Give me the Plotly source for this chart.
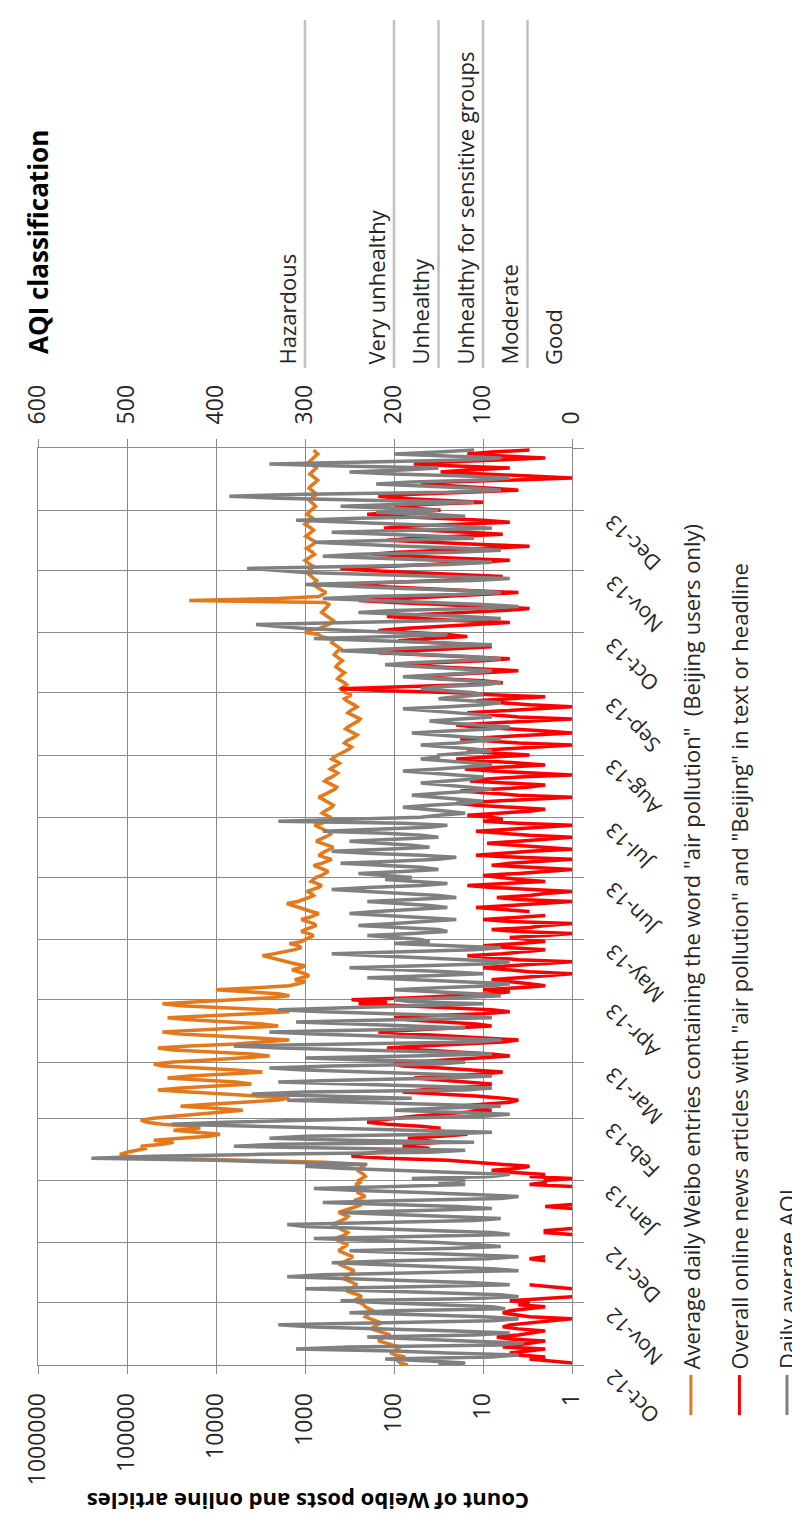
import pandas as pd
import plotly.graph_objects as go

# ---------------- data (daily, 2012-10-01 .. 2013-12-31) ----------------
# Daily average AQI (secondary axis)
aqi_oct12 = [150, 120, 160, 210, 90, 60, 140, 200, 310, 250, 80, 55, 120, 180, 230, 110, 70, 130, 220, 290, 330, 180, 90, 60, 100, 170, 250, 200, 75, 90, 160]
aqi_nov12 = [210, 260, 120, 60, 80, 150, 230, 300, 180, 70, 110, 190, 240, 320, 280, 150, 60, 90, 160, 210, 270, 200, 95, 60, 120, 180, 250, 140, 80, 110]
aqi_dec12 = [150, 220, 290, 180, 70, 90, 160, 230, 300, 320, 200, 110, 80, 140, 210, 260, 170, 90, 130, 200, 280, 190, 80, 60, 110, 170, 240, 290, 200, 120, 150]
aqi_jan13 = [120, 180, 90, 70, 140, 220, 260, 300, 230, 320, 400, 540, 470, 350, 160, 120, 280, 380, 330, 110, 250, 340, 300, 150, 90, 180, 260, 330, 450, 390, 300]
aqi_feb13 = [220, 100, 70, 130, 200, 150, 80, 160, 250, 320, 180, 280, 360, 300, 120, 90, 180, 270, 330, 250, 140, 90, 160, 210, 300, 340, 270, 150]
aqi_mar13 = [120, 230, 300, 180, 90, 150, 240, 330, 380, 250, 110, 80, 140, 220, 290, 340, 230, 120, 180, 260, 310, 200, 90, 130, 210, 280, 330, 250, 150, 100, 180]
aqi_apr13 = [200, 130, 80, 110, 160, 200, 150, 90, 70, 120, 180, 230, 160, 100, 140, 190, 250, 170, 90, 70, 120, 180, 240, 270, 190, 110, 80, 140, 200, 160]
aqi_may13 = [170, 200, 230, 180, 140, 150, 190, 240, 200, 160, 130, 170, 210, 250, 220, 180, 140, 160, 200, 230, 180, 130, 150, 190, 220, 270, 230, 170, 140, 180, 210]
aqi_jun13 = [180, 210, 240, 190, 150, 170, 220, 260, 200, 150, 130, 170, 230, 270, 210, 160, 180, 220, 250, 200, 150, 170, 210, 280, 230, 160, 140, 190, 330, 250]
aqi_jul13 = [170, 150, 120, 140, 170, 190, 160, 120, 100, 130, 160, 180, 150, 110, 90, 120, 150, 170, 140, 110, 100, 130, 160, 190, 150, 120, 90, 110, 140, 170, 150]
aqi_aug13 = [150, 120, 90, 110, 140, 170, 130, 100, 80, 120, 150, 180, 140, 90, 70, 110, 140, 160, 120, 90, 100, 130, 170, 190, 140, 100, 80, 110, 150, 130, 100]
aqi_sep13 = [110, 140, 170, 150, 100, 80, 120, 160, 190, 150, 110, 90, 130, 170, 210, 180, 120, 80, 110, 160, 220, 260, 200, 130, 90, 150, 230, 290, 200, 140]
aqi_oct13 = [200, 260, 300, 330, 355, 250, 140, 80, 120, 180, 240, 200, 110, 60, 100, 160, 220, 280, 230, 130, 80, 120, 190, 260, 300, 220, 110, 70, 150, 240, 300]
aqi_nov13 = [330, 365, 250, 140, 90, 150, 220, 280, 240, 130, 80, 120, 190, 250, 290, 200, 110, 150, 220, 270, 180, 90, 130, 200, 260, 310, 240, 120, 160, 220]
aqi_dec13 = [150, 210, 260, 190, 110, 230, 330, 385, 300, 140, 80, 110, 170, 220, 180, 100, 70, 120, 200, 250, 190, 150, 260, 340, 230, 120, 80, 140, 200, 150, 110]

# Average daily Weibo entries containing "air pollution" (Beijing users)
weibo_oct12 = [70, 85, 90, 80, 75, 95, 110, 100, 90, 85, 105, 130, 150, 140, 120, 110, 130, 160, 180, 170, 150, 140, 160, 190, 210, 200, 180, 170, 190, 210, 220]
weibo_nov12 = [240, 280, 260, 230, 250, 300, 340, 310, 280, 260, 290, 330, 370, 350, 320, 300, 280, 310, 360, 400, 380, 340, 310, 290, 330, 380, 420, 390, 350, 330]
weibo_dec12 = [380, 420, 460, 400, 350, 330, 370, 420, 460, 500, 440, 390, 350, 330, 370, 420, 360, 300, 260, 230, 250, 280, 240, 210, 230, 260, 240, 220, 250, 270, 240]
weibo_jan13 = [250, 230, 210, 220, 240, 260, 230, 220, 250, 600, 5000, 40000, 100000, 120000, 100000, 80000, 60000, 70000, 40000, 30000, 50000, 25000, 12000, 9000, 15000, 30000, 15000, 20000, 40000, 60000, 70000]
weibo_feb13 = [50000, 30000, 15000, 8000, 5000, 10000, 25000, 12000, 4000, 2000, 1500, 3000, 8000, 20000, 45000, 25000, 9000, 4000, 6000, 15000, 35000, 20000, 7000, 3000, 6000, 18000, 40000, 50000]
weibo_mar13 = [30000, 12000, 5000, 2500, 4000, 12000, 30000, 45000, 20000, 6000, 2500, 1500, 3500, 10000, 25000, 40000, 15000, 5000, 2000, 3000, 9000, 20000, 35000, 12000, 3500, 1500, 2500, 8000, 25000, 40000, 15000]
weibo_apr13 = [6000, 2500, 1500, 2000, 4500, 10000, 3500, 1500, 1200, 1000, 1300, 1100, 900, 1000, 1200, 1400, 1100, 1000, 1300, 1600, 2000, 2500, 3000, 2200, 1600, 1300, 1100, 1200, 1500, 1100]
weibo_may13 = [1000, 900, 800, 900, 1100, 1000, 850, 750, 800, 950, 1100, 900, 800, 700, 850, 1000, 1200, 1400, 1600, 1200, 1000, 900, 800, 850, 950, 800, 700, 650, 750, 850, 800]
weibo_jun13 = [750, 650, 600, 550, 620, 700, 800, 650, 550, 500, 600, 700, 650, 580, 520, 480, 550, 650, 750, 680, 600, 540, 500, 560, 620, 700, 780, 650, 560, 500]
weibo_jul13 = [520, 580, 640, 600, 550, 500, 480, 530, 600, 650, 700, 620, 560, 500, 460, 440, 480, 540, 600, 560, 500, 460, 430, 470, 520, 480, 440, 410, 450, 500, 470]
weibo_aug13 = [420, 380, 350, 320, 300, 330, 360, 340, 300, 280, 260, 290, 320, 350, 330, 300, 270, 250, 240, 270, 300, 330, 310, 280, 260, 280, 310, 340, 360, 330, 300]
weibo_sep13 = [350, 380, 400, 370, 340, 360, 400, 430, 410, 380, 360, 390, 420, 450, 430, 400, 380, 410, 440, 470, 450, 420, 400, 430, 460, 500, 480, 520, 650, 700]
weibo_oct13 = [1000, 900, 700, 600, 550, 500, 480, 520, 560, 600, 650, 620, 580, 560, 540, 600, 20000, 2000, 700, 620, 580, 640, 700, 760, 820, 780, 740, 800, 860, 900, 850]
weibo_nov13 = [900, 850, 800, 880, 950, 1000, 920, 850, 780, 820, 900, 960, 880, 800, 760, 820, 900, 980, 920, 860, 800, 850, 930, 1000, 940, 870, 820, 880, 950, 900]
weibo_dec13 = [850, 800, 760, 800, 860, 900, 840, 780, 740, 790, 850, 900, 860, 800, 760, 720, 760, 820, 880, 840, 790, 750, 800, 860, 900, 850, 800, 760, 720, 760, 800]

# Overall online news articles with "air pollution" and "Beijing" (None = zero)
news_oct12 = [None, 1, 2, 3, 2, 4, 5, 3, 2, 6, 4, 3, 2, 5, 7, 4, 3, 2, 4, 6, 5, 3, 2, 1, 3, 4, 6, 5, 3, 2, 4]
news_nov12 = [3, 5, 2, 1, None, None, None, 1, 2, 3, None, None, None, None, None, None, None, None, None, None, None, 2, 3, 2, None, None, None, None, None, None]
news_dec12 = [None, None, None, None, 1, 2, 2, 1, None, None, None, None, None, None, None, None, None, 1, 2, 1, None, None, None, None, None, None, None, None, 1, 3, 2]
news_jan13 = [2, 1, 3, 2, 5, 8, 4, 3, 6, 10, 25, 120, 300, 250, 150, 60, 40, 80, 60, 30, 50, 70, 30, 15, 20, 40, 30, 50, 120, 200, 150]
news_feb13 = [100, 60, 30, 15, 8, 12, 20, 10, 5, 4, 6, 12, 40, 80, 50, 25, 10, 8, 15, 30, 60, 25, 10, 6, 12, 30, 80, 100]
news_mar13 = [60, 25, 10, 5, 8, 20, 60, 120, 50, 15, 6, 4, 10, 30, 80, 150, 60, 20, 8, 12, 30, 70, 100, 40, 10, 5, 8, 25, 100, 250, 120]
news_apr13 = [300, 60, 20, 8, 5, 10, 4, 2, 3, 5, 8, 4, 2, 1, 3, 6, 10, 5, 2, 1, 4, 8, 15, 6, 3, 2, 5, 10, 4, 2]
news_may13 = [3, 5, 2, 1, 4, 8, 3, 2, 1, 5, 10, 4, 2, None, 3, 6, 12, 5, 2, 1, 4, 7, 3, 2, 1, 3, 8, 15, 6, 2, 4]
news_jun13 = [6, 10, 4, 2, 1, 3, 8, 5, 2, 1, 4, 12, 6, 3, 1, 2, 5, 9, 4, 2, 1, 3, 7, 12, 5, 2, 1, 4, 10, 6]
news_jul13 = [8, 15, 6, 3, 2, 5, 12, 20, 8, 3, 1, 4, 10, 18, 7, 3, 2, 6, 14, 9, 4, 1, 3, 8, 16, 6, 2, 4, 10, 20, 8]
news_aug13 = [3, 8, 15, 6, 2, 1, 4, 10, 18, 7, 3, 1, 2, 6, 12, 20, 8, 3, 1, 4, 9, 15, 6, 2, 1, 3, 7, 12, 5, 2, 8]
news_sep13 = [20, 120, 400, 80, 15, 6, 10, 30, 60, 25, 8, 4, 12, 40, 100, 35, 10, 5, 15, 50, 150, 60, 20, 8, 12, 35, 90, 40, 15, 25]
news_oct13 = [60, 150, 80, 30, 10, 5, 20, 60, 120, 50, 15, 6, 3, 8, 30, 100, 250, 80, 25, 8, 4, 15, 50, 150, 300, 120, 30, 10, 6, 20, 70]
news_nov13 = [200, 400, 150, 40, 12, 5, 20, 70, 180, 90, 25, 8, 3, 12, 40, 120, 60, 20, 6, 15, 50, 130, 70, 20, 5, 10, 40, 110, 200, 80]
news_dec13 = [30, 60, 100, 40, 10, 30, 90, 150, 60, 15, 4, 8, 20, 50, 25, 6, 1, 3, 10, 30, 15, 5, 20, 60, 25, 8, 2, 6, 15, 8, 3]

month_ticks = ["2012-10-01", "2012-11-01", "2012-12-01", "2013-01-01", "2013-02-01", "2013-03-01",
               "2013-04-01", "2013-05-01", "2013-06-01", "2013-07-01", "2013-08-01", "2013-09-01",
               "2013-10-01", "2013-11-01", "2013-12-01"]
month_labels = ["Oct-12", "Nov-12", "Dec-12", "Jan-13", "Feb-13", "Mar-13", "Apr-13", "May-13",
                "Jun-13", "Jul-13", "Aug-13", "Sep-13", "Oct-13", "Nov-13", "Dec-13"]
count_ticks = [1, 10, 100, 1000, 10000, 100000, 1000000]
count_labels = ["1", "10", "100", "1000", "10000", "100000", "1000000"]
aqi_ticks = [0, 100, 200, 300, 400, 500, 600]

aqi_class_names = ["Hazardous", "Very unhealthy", "Unhealthy", "Unhealthy for sensitive groups", "Moderate", "Good"]
aqi_class_lower = [300, 200, 150, 100, 50, 0]

series_names = ['Average daily Weibo entries containing the word "air pollution"\u00a0 (Beijing users only)',
                'Overall online news articles with "air pollution" and "Beijing" in text or headline',
                'Daily average AQI']
series_colors = ["#E5781A", "#FF0000", "#808080"]

# ---------------- assemble ----------------
aqi = (aqi_oct12 + aqi_nov12 + aqi_dec12 + aqi_jan13 + aqi_feb13 + aqi_mar13 + aqi_apr13 + aqi_may13
       + aqi_jun13 + aqi_jul13 + aqi_aug13 + aqi_sep13 + aqi_oct13 + aqi_nov13 + aqi_dec13)
weibo = (weibo_oct12 + weibo_nov12 + weibo_dec12 + weibo_jan13 + weibo_feb13 + weibo_mar13 + weibo_apr13
         + weibo_may13 + weibo_jun13 + weibo_jul13 + weibo_aug13 + weibo_sep13 + weibo_oct13 + weibo_nov13 + weibo_dec13)
news = (news_oct12 + news_nov12 + news_dec12 + news_jan13 + news_feb13 + news_mar13 + news_apr13 + news_may13
        + news_jun13 + news_jul13 + news_aug13 + news_sep13 + news_oct13 + news_nov13 + news_dec13)
dates = pd.date_range("2012-10-01", periods=len(aqi), freq="D")

FONT = "'Open Sans', Lato, sans-serif"
TXT = "#262626"
GRID = "#8a8a8a"

W, H = 800, 1519
L, R, T, B = 25, 236, 440, 162
PW, PH = W - L - R, H - T - B


def px_x(p):
    return (p - L) / PW


def px_y(p):
    return (H - B - p) / PH


fig = go.Figure()
fig.add_trace(go.Scatter(x=weibo, y=dates, mode="lines", line=dict(color=series_colors[0], width=3.5),
                         xaxis="x", yaxis="y", name=series_names[0], showlegend=False))
fig.add_trace(go.Scatter(x=news, y=dates, mode="lines", line=dict(color=series_colors[1], width=3.5),
                         xaxis="x", yaxis="y", name=series_names[1], showlegend=False, connectgaps=False))
fig.add_trace(go.Scatter(x=aqi, y=dates, mode="lines", line=dict(color=series_colors[2], width=3.5),
                         xaxis="x2", yaxis="y", name=series_names[2], showlegend=False))

annotations = []
shapes = []

# date labels (rotated like the reference)
for d, lab in zip(month_ticks, month_labels):
    annotations.append(dict(text=lab, x=1, xref="paper", y=d, yref="y", xanchor="left", yanchor="top",
                            xshift=24, yshift=4, textangle=-135, showarrow=False,
                            font=dict(family=FONT, size=21, color=TXT)))

# AQI classification lines and labels
for name, lo in zip(aqi_class_names, aqi_class_lower):
    if lo > 0:
        shapes.append(dict(type="line", xref="x2", yref="paper", x0=lo, x1=lo,
                           y0=px_y(360), y1=px_y(12), line=dict(color="#c0c0c0", width=2.5)))
    annotations.append(dict(text=name, x=lo, xref="x2", y=px_y(359), yref="paper", xanchor="right",
                            yanchor="bottom", xshift=-2, textangle=-90, showarrow=False,
                            font=dict(family=FONT, size=22, color=TXT)))
annotations.append(dict(text="<b>AQI classification</b>", x=px_x(25), xref="paper", y=px_y(348), yref="paper",
                        xanchor="center", yanchor="bottom", textangle=-90, showarrow=False,
                        font=dict(family=FONT, size=26, color="#000000")))

# count axis title (upside down, as in the rotated reference)
annotations.append(dict(text="<b>Count of Weibo posts and online articles</b>", x=px_x(297), xref="paper",
                        y=px_y(1494), yref="paper", xanchor="center", yanchor="middle", textangle=180,
                        showarrow=False, font=dict(family=FONT, size=22, color="#000000")))

# legend (rotated)
legend_x = [684, 733, 781]
for name, col, lx in zip(series_names, series_colors, legend_x):
    shapes.append(dict(type="line", xref="paper", yref="paper", x0=px_x(lx), x1=px_x(lx),
                       y0=px_y(1367), y1=px_y(1407), line=dict(color=col, width=3)))
    annotations.append(dict(text=name, x=px_x(lx), xref="paper", y=px_y(1363), yref="paper",
                            xanchor="center", yanchor="bottom", textangle=-90, showarrow=False,
                            font=dict(family=FONT, size=22, color=TXT)))

fig.update_layout(
    width=W, height=H, margin=dict(l=L, r=R, t=T, b=B, pad=0),
    paper_bgcolor="white", plot_bgcolor="white", showlegend=False,
    font=dict(family=FONT, color=TXT),
    xaxis=dict(type="log", range=[6, 0], tickmode="array", tickvals=count_ticks, ticktext=count_labels,
               tickangle=-90, ticks="outside", ticklen=8, tickcolor=GRID, showgrid=True, gridcolor=GRID,
               gridwidth=1, showline=True, linecolor=GRID, linewidth=1, zeroline=False,
               tickfont=dict(family=FONT, size=23, color=TXT), ticklabelstandoff=10),
    xaxis2=dict(overlaying="x", side="top", range=[600, 0], tickmode="array", tickvals=aqi_ticks,
                tickangle=-90, ticks="outside", ticklen=8, tickcolor=GRID, showgrid=False,
                showline=True, linecolor=GRID, linewidth=1, zeroline=False,
                tickfont=dict(family=FONT, size=23, color=TXT), ticklabelstandoff=10),
    yaxis=dict(type="date", range=["2012-10-01", "2014-01-01"], side="right", tickmode="array",
               tickvals=month_ticks + ["2014-01-01"], showticklabels=False, ticks="outside", ticklen=11,
               tickcolor=GRID, showgrid=True, gridcolor=GRID, gridwidth=1, showline=True, mirror=True,
               linecolor=GRID, linewidth=1, zeroline=False),
    annotations=annotations, shapes=shapes,
)

fig.write_html("out.html")
